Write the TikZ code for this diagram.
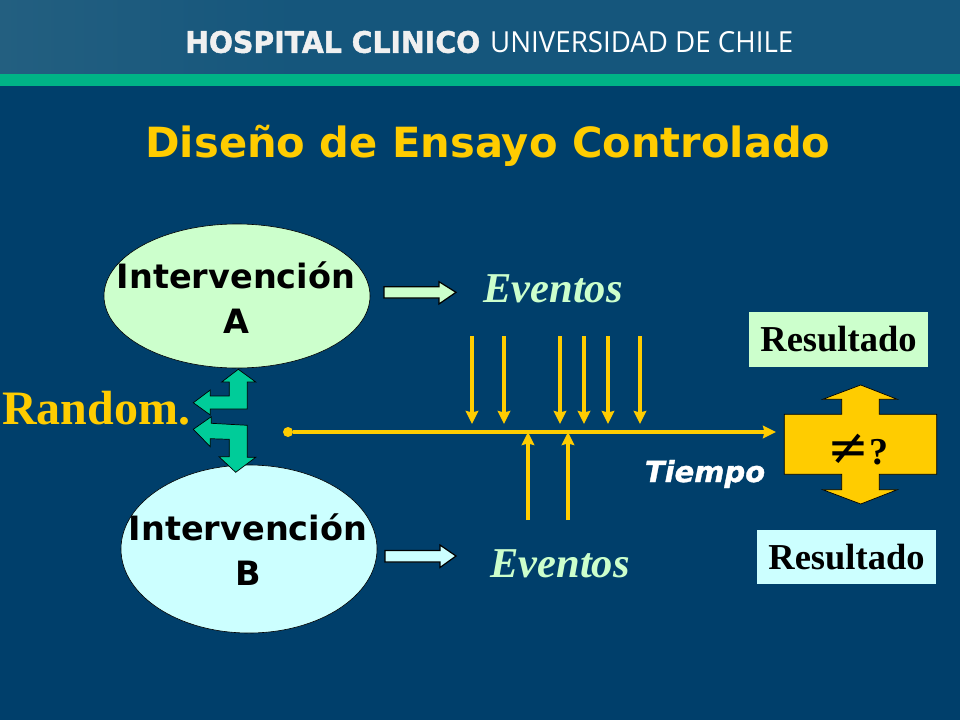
\documentclass[tikz,border=0pt]{standalone}
\usepackage{fontspec}
\usetikzlibrary{shapes.geometric,arrows.meta,calc}
\setmainfont{Liberation Serif}
\newfontfamily\vfont{DejaVu Sans}
\newfontfamily\hfont[BoldFeatures={FakeBold=1.6},BoldItalicFeatures={FakeBold=1.2}]{DejaVu Sans}
\newfontfamily\lfont{Open Sans}
\definecolor{bg}{HTML}{003F6B}
\definecolor{hdr}{HTML}{15567C}
\definecolor{hdrl}{HTML}{235F80}
\definecolor{band}{HTML}{00B386}
\definecolor{gold}{HTML}{FFCC00}
\definecolor{mintg}{HTML}{CCFFCC}
\definecolor{cyanl}{HTML}{CCFFFF}
\definecolor{teal}{HTML}{00CC99}
\tikzset{
  oval/.style={draw=black,line width=.6pt,ellipse,inner sep=0pt},
  ovaltext/.style={align=center,font=\vfont\bfseries\fontsize{33.5}{45}\selectfont,text=black},
  evt/.style={font=\bfseries\itshape\fontsize{42.5}{46}\selectfont,text=mintg},
  res/.style={font=\bfseries\fontsize{36.5}{40}\selectfont,text=black,minimum width=179pt,minimum height=54.5pt,inner sep=0pt},
  thin/.style={draw=gold,line width=3.5pt,-{Stealth[length=13pt,width=12.5pt,inset=1.5pt]}},
  blockarrow/.style={draw=black,line width=1.2pt},
  greenshape/.style={fill=teal,draw=black,line width=.7pt,line join=miter},
}
\begin{document}
\begin{tikzpicture}[x=1pt,y=-1pt]
\useasboundingbox (0,0) rectangle (960,720);
\fill[bg] (0,0) rectangle (960,720);
\shade[left color=hdrl,right color=hdr] (0,0) rectangle (300,74);
\fill[hdr] (300,0) rectangle (960,74);
\fill[band] (0,74) rectangle (960,86);
% header text
\node (hl) [anchor=west,inner sep=0pt,text=white!94!black] at (185,42) {\resizebox{295pt}{22pt}{\hfont\bfseries HOSPITAL CLINICO}};
\node (hr) [anchor=west,inner sep=0pt,text=white] at (490,42) {\resizebox{303pt}{21pt}{\lfont UNIVERSIDAD DE CHILE}};
% title
\node (title) [text=gold,inner sep=0pt] at (488,146) {\vfont\bfseries\fontsize{41.6}{46}\selectfont Diseño de Ensayo Controlado};
% ovals
\node (ia) [oval,fill=mintg,minimum width=266pt,minimum height=144pt] at (237,296) {};
\node (ib) [oval,fill=cyanl,minimum width=256pt,minimum height=168pt] at (249,549) {};
\node (iat) [ovaltext] at (236,298) {Intervención\\A};
\node (ibt) [ovaltext] at (248,550) {Intervención\\B};
% random
\node (rnd) [text=gold,inner sep=0pt,anchor=west] at (2,408) {\bfseries\fontsize{48}{50}\selectfont Random.};
% green arrows
\draw[greenshape] (238.3,369.3)--(255.7,382)--(247.3,382)--(247.3,409)--(210.3,409)--(210.3,415)--(193.3,402.7)--(210.3,390)--(210.3,396)--(229.3,396)--(229.3,382)--(221.7,382)--cycle;
\draw[greenshape] (211.3,416.7)--(193.3,429.3)--(210.3,446.7)--(210.3,438.7)--(229.3,439.3)--(229.3,456.7)--(219,456.7)--(235.7,472.3)--(255.7,457.3)--(247.3,457.3)--(247.3,425.3)--(211.3,423.3)--cycle;
% block arrows
\draw[blockarrow,fill=mintg] (384,286.7)--(439,286.7)--(439,281.7)--(456,292.3)--(439,304)--(439,298)--(384,298)--cycle;
\draw[blockarrow,fill=cyanl] (385,550.5)--(440,550.5)--(440,545)--(456,556)--(440,567.5)--(440,562)--(385,562)--cycle;
% eventos
\node (ea) [evt] at (553,289) {Eventos};
\node (eb) [evt] at (560,564) {Eventos};
% timeline
\node (dot) [circle,fill=gold,inner sep=0pt,minimum size=10pt] at (288,432) {};
\coordinate (tend) at (776,432);
\draw[thin] (dot) -- (tend);
\foreach \x in {472,504,560,584,608,640}{
  \coordinate (dt\x) at (\x,336);
  \coordinate (db\x) at (\x,424);
  \draw[thin] (dt\x) -- (db\x);
}
\foreach \x in {528,568}{
  \coordinate (ub\x) at (\x,520);
  \coordinate (ut\x) at (\x,432);
  \draw[thin] (ub\x) -- (ut\x);
}
\node (tp) [text=white,inner sep=0pt] at (705,474) {\hfont\bfseries\itshape\fontsize{29}{30}\selectfont Tiempo};
% results
\node (ra) [res,fill=mintg] at (838.5,339.5) {Resultado};
\node (rb) [res,fill=cyanl] at (846.5,557) {Resultado};
\draw[draw=black,fill=gold,line width=.7pt] (860.7,385)--(897.3,399.3)--(879.3,399.3)--(879.3,414.3)--(936.7,414.3)--(936.7,474.3)--(879.3,474.3)--(879.3,489.7)--(897.3,489.7)--(860.7,504)--(822.7,489.7)--(841.7,489.7)--(841.7,474.3)--(784.3,474.3)--(784.3,414.3)--(841.7,414.3)--(841.7,399.3)--(822.7,399.3)--cycle;
\node (ne) [inner sep=0pt,text=black] at (858,450) {\vfont\fontsize{50}{54}\selectfont ≠\fontspec{Liberation Serif}\bfseries\fontsize{38}{40}\selectfont ?};
\end{tikzpicture}
\end{document}
